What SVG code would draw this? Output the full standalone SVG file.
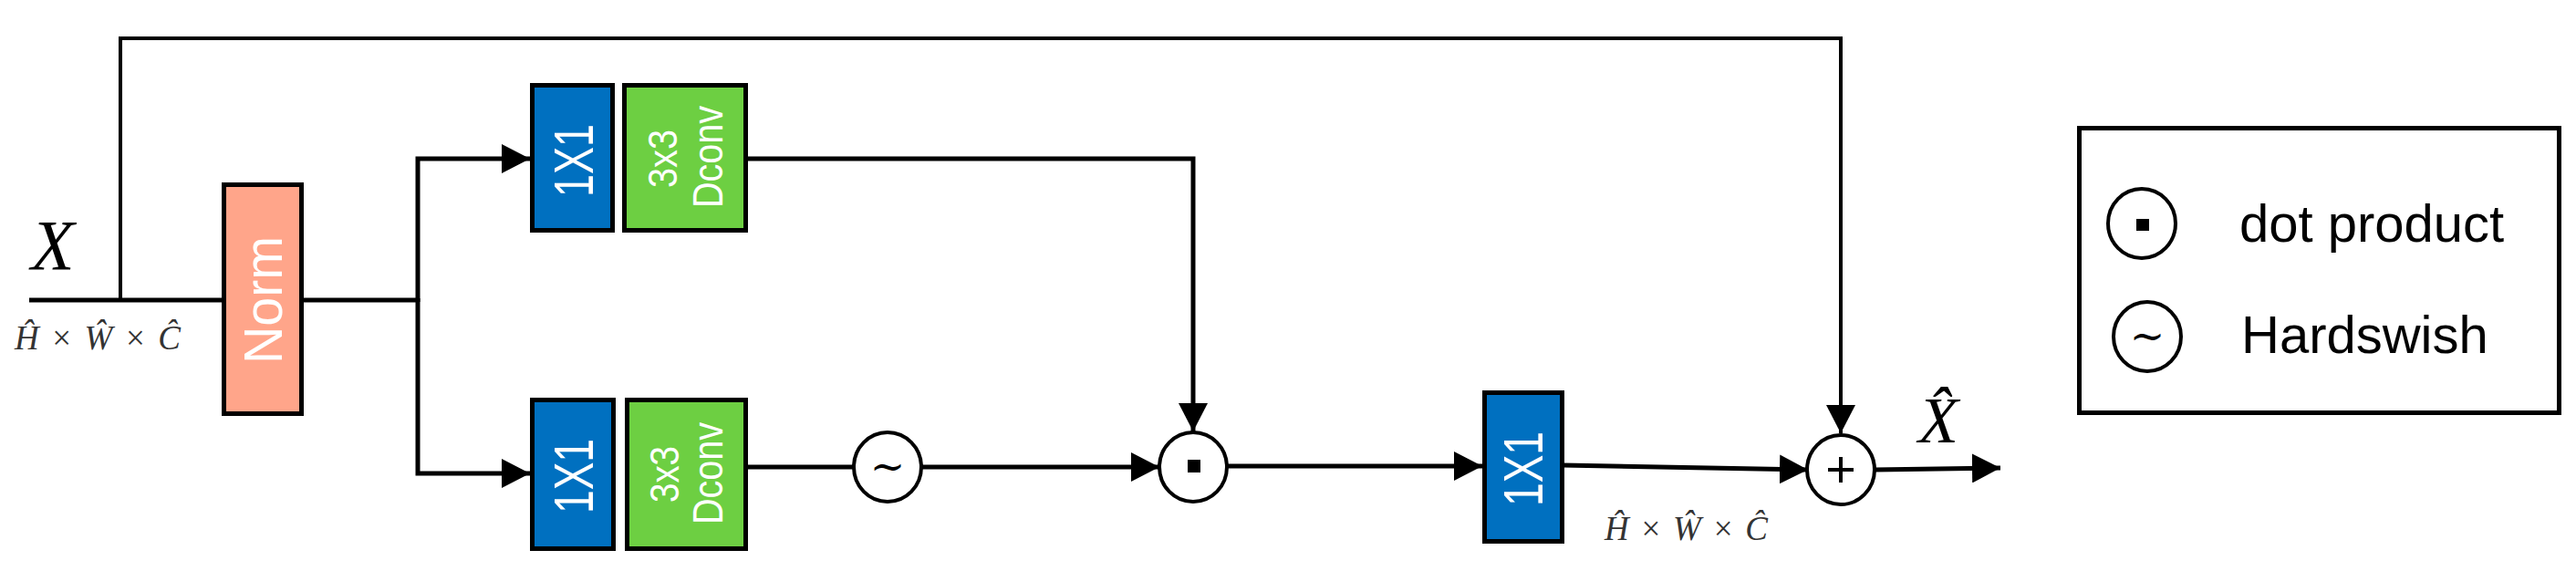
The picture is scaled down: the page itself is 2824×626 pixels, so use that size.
<svg xmlns="http://www.w3.org/2000/svg" width="2824" height="626" viewBox="0 0 2824 626">
<defs>
<marker id="arr" viewBox="0 0 31 32" refX="31" refY="16" markerWidth="31" markerHeight="32" markerUnits="userSpaceOnUse" orient="auto">
<path d="M0,0 L31,16 L0,32 z" fill="#000"/>
</marker>
<style>
.box{stroke:#000;stroke-width:5}
.blue{fill:#0070C0}
.green{fill:#6DCF42}
.salmon{fill:#FFA58A}
.wt{fill:#fff;font-family:"Liberation Sans",Arial,sans-serif;text-anchor:middle}
.ln{fill:none;stroke:#000;stroke-width:5}
.thin{fill:none;stroke:#000;stroke-width:4}
.op{fill:#fff;stroke:#000;stroke-width:4}
.math{font-family:"Liberation Serif","Times New Roman",serif;font-style:italic;fill:#000}
.dim{font-family:"Liberation Serif","Times New Roman",serif;font-style:italic;font-size:37px;fill:#333}
.leg{font-family:"Liberation Sans",Arial,sans-serif;font-size:58px;fill:#000}
.tl{font-family:"DejaVu Serif","Liberation Serif",serif;font-size:46px;fill:#000;text-anchor:middle}
</style>
</defs>
<rect width="2824" height="626" fill="#fff"/>

<g id="connectors">
<path class="ln" d="M32,329 H245"/>
<path class="thin" d="M132,331 V42 H2018 V475" marker-end="url(#arr)"/>
<path class="ln" d="M331,329 H458"/>
<path class="ln" d="M458,331 V174 H581" marker-end="url(#arr)"/>
<path class="ln" d="M458,327 V519 H581" marker-end="url(#arr)"/>
<path class="ln" d="M818,174 H1308 V473" marker-end="url(#arr)"/>
<path class="ln" d="M818,512 H936"/>
<path class="ln" d="M1010,512 H1271" marker-end="url(#arr)"/>
<path class="ln" d="M1345,511 H1625" marker-end="url(#arr)"/>
<path class="ln" d="M1713,510 L1982,515" marker-end="url(#arr)"/>
<path class="ln" d="M2055,515 L2193,513" marker-end="url(#arr)"/>
</g>

<g id="input-label">
<text class="math" x="34" y="295" font-size="78">X</text>
<text class="dim" x="16" y="383" textLength="182" lengthAdjust="spacing">Ĥ <tspan font-style="normal">×</tspan> Ŵ <tspan font-style="normal">×</tspan> Ĉ</text>
</g>

<g id="norm">
<rect class="box salmon" x="245.5" y="202.5" width="85" height="251"/>
<text class="wt" transform="translate(309,329) rotate(-90)" font-size="60" textLength="140" lengthAdjust="spacingAndGlyphs">Norm</text>
</g>

<g id="conv1x1-top">
<rect class="box blue" x="583.5" y="93.5" width="88" height="159"/>
<text class="wt" transform="translate(650,176) rotate(-90)" font-size="61" textLength="80" lengthAdjust="spacingAndGlyphs">1X1</text>
</g>

<g id="dconv-top">
<rect class="box green" x="684.5" y="93.5" width="133" height="159"/>
<text class="wt" transform="translate(742,174) rotate(-90)" font-size="45" textLength="64" lengthAdjust="spacingAndGlyphs">3x3</text>
<text class="wt" transform="translate(792,172) rotate(-90)" font-size="46" textLength="112" lengthAdjust="spacingAndGlyphs">Dconv</text>
</g>

<g id="conv1x1-bottom">
<rect class="box blue" x="583.5" y="438.5" width="89" height="163"/>
<text class="wt" transform="translate(650,522) rotate(-90)" font-size="61" textLength="82" lengthAdjust="spacingAndGlyphs">1X1</text>
</g>

<g id="dconv-bottom">
<rect class="box green" x="687.5" y="438.5" width="130" height="163"/>
<text class="wt" transform="translate(744,520) rotate(-90)" font-size="45" textLength="62" lengthAdjust="spacingAndGlyphs">3x3</text>
<text class="wt" transform="translate(792,519) rotate(-90)" font-size="46" textLength="112" lengthAdjust="spacingAndGlyphs">Dconv</text>
</g>

<g id="hardswish">
<ellipse class="op" cx="973" cy="512" rx="37" ry="38"/>
<text class="tl" x="973" y="527">~</text>
</g>

<g id="dot-product">
<ellipse class="op" cx="1308" cy="512" rx="37" ry="38"/>
<rect x="1302" y="504" width="14" height="14" fill="#000"/>
</g>

<g id="conv1x1-out">
<rect class="box blue" x="1627.5" y="430.5" width="85" height="163"/>
<text class="wt" transform="translate(1691,514) rotate(-90)" font-size="61" textLength="82" lengthAdjust="spacingAndGlyphs">1X1</text>
<text class="dim" x="1759" y="592" textLength="179" lengthAdjust="spacing">Ĥ <tspan font-style="normal">×</tspan> Ŵ <tspan font-style="normal">×</tspan> Ĉ</text>
</g>

<g id="add">
<ellipse class="op" cx="2018" cy="515" rx="37" ry="38"/>
<path d="M2004,515 H2032 M2018,501 V529" stroke="#000" stroke-width="4"/>
</g>

<g id="output-label">
<text class="math" x="2103" y="485" font-size="72">X&#x302;</text>
</g>

<g id="legend">
<rect x="2279.5" y="140.5" width="526" height="312" fill="none" stroke="#000" stroke-width="5"/>
<ellipse class="op" cx="2348" cy="245" rx="37" ry="38"/>
<rect x="2342" y="240" width="14" height="13" fill="#000"/>
<text class="leg" x="2455" y="265">dot product</text>
<ellipse class="op" cx="2354" cy="369" rx="37" ry="38"/>
<text class="tl" x="2354" y="384">~</text>
<text class="leg" x="2457" y="387">Hardswish</text>
</g>
</svg>
